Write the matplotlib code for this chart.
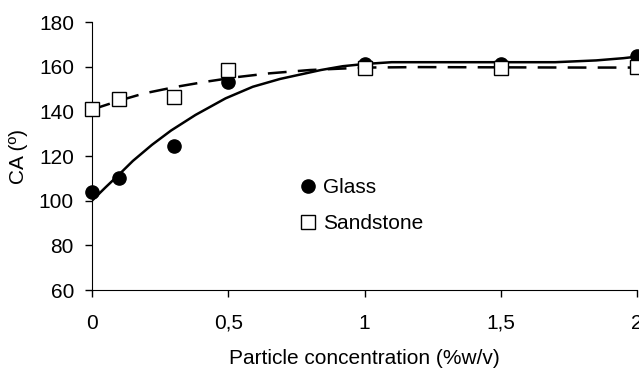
import matplotlib.pyplot as plt

plt.rcParams['font.family'] = ['Liberation Sans', 'DejaVu Sans']
plt.rcParams['font.size'] = 15

# measured points
conc = [0, 0.1, 0.3, 0.5, 1, 1.5, 2]
glass = [104, 110, 124.5, 153, 161, 161, 165]
sandstone = [141, 145.5, 146.5, 158.5, 159.5, 159.5, 160]

# fitted trend lines
glass_fit_x = [0, 0.05, 0.1, 0.15, 0.22, 0.29, 0.38, 0.49, 0.59, 0.69, 0.84, 0.92, 1.0, 1.1, 1.5, 1.7, 1.85, 1.95, 2.0]
glass_fit_y = [100, 106, 111.8, 117.8, 125, 131.4, 138.4, 145.8, 151, 154.5, 158.5, 160.2, 161.2, 162, 162, 162, 162.8, 163.8, 164.5]
sand_fit_x = [0, 0.1, 0.19, 0.31, 0.42, 0.53, 0.65, 0.8, 1.0, 1.2, 1.5, 1.8, 2.0]
sand_fit_y = [140.8, 144.8, 148, 151, 153.3, 155.3, 157, 158.5, 159.6, 159.8, 159.7, 159.6, 159.6]

fig = plt.figure(figsize=(6.39, 3.69), dpi=100)
ax = fig.add_axes([92 / 639, 79 / 369, 545 / 639, 268 / 369])

ax.plot(glass_fit_x, glass_fit_y, color='black', lw=1.8, zorder=2)
ax.plot(sand_fit_x, sand_fit_y, color='black', lw=1.8, dashes=(7.5, 4.5), zorder=2)
ax.plot(conc, glass, 'o', color='black', ms=9.5, label='Glass', clip_on=False, zorder=3)
ax.plot(conc, sandstone, 's', mfc='white', mec='black', mew=1.0, ms=9.5, label='Sandstone',
        clip_on=False, zorder=3)

ax.set_xlim(0, 2)
ax.set_ylim(60, 180)
ax.set_xticks([0, 0.5, 1, 1.5, 2])
ax.set_xticklabels(['0', '0,5', '1', '1,5', '2'])
ax.set_yticks(range(60, 181, 20))
ax.spines['top'].set_visible(False)
ax.spines['right'].set_visible(False)
ax.tick_params(direction='out', length=5, width=1)
ax.tick_params(axis='x', pad=12)
ax.tick_params(axis='y', pad=8)
ax.set_xlabel('Particle concentration (%w/v)', labelpad=12)
ax.set_ylabel('CA (º)', labelpad=8)

ax.legend(frameon=False, loc='center left', bbox_to_anchor=(0.359, 0.315),
          handletextpad=0.2, handlelength=1.0, labelspacing=0.8, borderpad=0)

plt.savefig('out.png', dpi=100)
